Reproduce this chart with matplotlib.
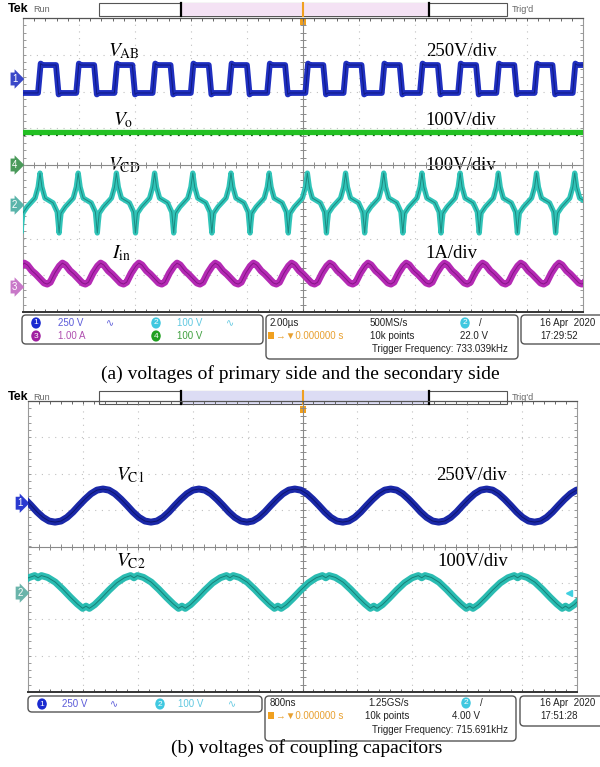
import matplotlib
matplotlib.use('Agg')
import matplotlib.pyplot as plt
import numpy as np
from matplotlib.patches import FancyBboxPatch, Rectangle

plt.rcParams['mathtext.fontset'] = 'stix'
SERIF = 'Liberation Serif'
SANS = ['Liberation Sans', 'DejaVu Sans']

# ---- panel (a): 2.00us/div, values in divisions ----
period_a = 0.682

vab_start = 0.268
vab_frac = [0, 0.07, 0.12, 0.47, 0.54, 0.59, 1.0]
vab_level = [1.96, 2.76, 2.72, 2.72, 1.92, 1.96, 1.96]

vo_level = 0.90

vcd_start = 0.304
vcd_frac = [0, 0.025, 0.05, 0.13, 0.34, 0.45, 0.475, 0.5, 0.525, 0.55, 0.66, 0.87, 0.95, 0.975, 1.0]
vcd_level = [-0.22, -0.41, -0.60, -0.90, -1.03, -1.28, -1.55, -1.85, -1.55, -1.31, -1.14, -0.90, -0.60, -0.41, -0.22]

iin_start = 0.705
iin_frac = [0, 0.08, 0.2, 0.3, 0.42, 0.52, 0.6, 0.68, 0.8, 0.92, 1.0]
iin_level = [-2.67, -2.72, -2.88, -2.97, -3.10, -3.21, -3.24, -3.19, -2.94, -2.75, -2.67]

# ---- panel (b): 800ns/div ----
period_b = 1.747

vc1_start = 1.366
vc1_frac = [i / 16 for i in range(17)]
vc1_level = [1.58, 1.55, 1.45, 1.30, 1.13, 0.95, 0.80, 0.70, 0.67, 0.70, 0.80, 0.95, 1.13, 1.30, 1.45, 1.55, 1.58]

vc2_start = 1.93
vc2_frac = [0, 0.035, 0.1, 0.18, 0.26, 0.34, 0.41, 0.465, 0.5, 0.535, 0.59, 0.66, 0.74, 0.82, 0.9, 0.965, 1.0]
vc2_level = [-0.86, -0.80, -0.85, -0.98, -1.18, -1.40, -1.58, -1.70, -1.64, -1.70, -1.60, -1.42, -1.20, -1.00, -0.86, -0.80, -0.86]


def tile(frac, level, start, period):
    xs, ys = [], []
    k = -2
    while start + k * period < 10.5:
        for f, v in zip(frac, level):
            xs.append(start + (k + f) * period)
            ys.append(v)
        k += 1
    return np.array(xs), np.array(ys)


fig = plt.figure(figsize=(6, 7.67), dpi=100)
ov = fig.add_axes([0, 0, 1, 1])
ov.set_xlim(0, 600)
ov.set_ylim(767, 0)
ov.axis('off')


def scope_axes(x0, y0, x1, y1):
    ax = fig.add_axes([x0 / 600, 1 - y1 / 767, (x1 - x0) / 600, (y1 - y0) / 767])
    ax.set_xlim(0, 10)
    ax.set_ylim(-4, 4)
    ax.set_xticks([])
    ax.set_yticks([])
    ax.patch.set_alpha(0)
    tx = 3.0 / ((y1 - y0) / 8)
    ty = 3.0 / ((x1 - x0) / 10)
    for i in range(1, 10):
        if i != 5:
            ax.axvline(i, ls=(0, (1, 5)), color='#c0c0c0', lw=0.8, zorder=1)
    for j in range(-3, 4):
        if j != 0:
            ax.axhline(j, ls=(0, (1, 5)), color='#c0c0c0', lw=0.8, zorder=1)
    ax.axvline(5, color='#8a8a8a', lw=0.8, zorder=1)
    ax.axhline(0, color='#8a8a8a', lw=0.8, zorder=1)
    xt = np.arange(0, 10.01, 0.2)
    yt = np.arange(-4, 4.01, 0.2)
    ax.vlines(xt, -tx, tx, color='#8a8a8a', lw=0.7, zorder=1)
    ax.hlines(yt, 5 - ty, 5 + ty, color='#8a8a8a', lw=0.7, zorder=1)
    ax.vlines(xt, 4 - tx, 4, color='#666666', lw=0.7, zorder=1)
    ax.vlines(xt, -4, -4 + tx, color='#666666', lw=0.7, zorder=1)
    ax.hlines(yt, 0, ty, color='#999999', lw=0.7, zorder=1)
    ax.hlines(yt, 10 - ty, 10, color='#999999', lw=0.7, zorder=1)
    for s in ['left', 'right']:
        ax.spines[s].set_color('#999999')
        ax.spines[s].set_linewidth(0.8)
    ax.spines['top'].set_color('#555555')
    ax.spines['top'].set_linewidth(0.9)
    ax.spines['bottom'].set_color('#333333')
    ax.spines['bottom'].set_linewidth(1.4)
    return ax


def trace(ax, x, y, color, dark, lw):
    ax.plot(x, y, color=color, lw=lw, solid_joinstyle='round', zorder=3)
    ax.plot(x, y, color=dark, lw=0.7, alpha=0.8, zorder=4)


def ch_marker(ax, y, label, color):
    ax.text(-0.1, y, label, ha='right', va='center', fontsize=7, color='white',
            clip_on=False, family=SANS,
            bbox=dict(boxstyle='rarrow,pad=0.15', fc=color, ec='none'))


def header(y0, inner):
    ov.text(8, y0 + 9, 'Tek', fontsize=9, weight='bold', family=SANS, va='center')
    ov.text(33, y0 + 9, 'Run', fontsize=6.5, color='#666666', family=SANS, va='center')
    ov.add_patch(Rectangle((99, y0 + 3), 408, 13, fc='white', ec='#555555', lw=0.8))
    ov.add_patch(Rectangle((181, y0 + 3), 248, 13, fc=inner, ec='none'))
    ov.plot([181, 181], [y0 + 3, y0 + 16], color='black', lw=1.6)
    ov.plot([429, 429], [y0 + 3, y0 + 16], color='black', lw=1.6)
    ov.plot([303, 303], [y0 + 3, y0 + 16], color='#f0a020', lw=1.5)
    ov.add_patch(Rectangle((300, y0 + 18), 6, 7, fc='#f0a020', ec='none', zorder=5))
    ov.text(512, y0 + 9, "Trig'd", fontsize=6.5, color='#666666', family=SANS, va='center')


def badge(x, y, label, color):
    ov.text(x, y, label, ha='center', va='center', fontsize=6, color='white', family=SANS,
            bbox=dict(boxstyle='round,pad=0.3,rounding_size=0.8', fc=color, ec='none'))


def box(x0, y0, x1, y1):
    ov.add_patch(FancyBboxPatch((x0, y0), x1 - x0, y1 - y0,
                                boxstyle='round,pad=0,rounding_size=4',
                                fc='white', ec='#555555', lw=1))


def stxt(x, y, s, color='#222222'):
    ov.text(x, y, s, fontsize=7, color=color, family=SANS, va='center')


# ---------------- panel (a) ----------------
header(0, '#f4e2f4')
ax_a = scope_axes(23, 18, 583, 312)

x, y = tile(vab_frac, vab_level, vab_start, period_a)
trace(ax_a, x, y, '#1f2fc0', '#0c1470', 4.2)
ax_a.plot([0, 10], [vo_level, vo_level], color='#22c022', lw=3.8, zorder=3)
ax_a.plot([0, 10], [vo_level - 0.08, vo_level - 0.08], color='#1a5a1a', lw=0.9,
          ls=(0, (1.5, 5)), zorder=4)
x, y = tile(vcd_frac, vcd_level, vcd_start, period_a)
trace(ax_a, x, y, '#30c4b8', '#187a72', 3.8)
x, y = tile(iin_frac, iin_level, iin_start, period_a)
trace(ax_a, x, y, '#b42ab4', '#7a107a', 5.0)

ch_marker(ax_a, 2.34, '1', '#3a48c8')
ch_marker(ax_a, 0.0, '4', '#4a9a5a')
ch_marker(ax_a, -1.09, '2', '#5ab4aa')
ch_marker(ax_a, -3.32, '3', '#c878c8')

ov.text(108, 56, r'$V_{\rm AB}$', fontsize=14, va='baseline')
ov.text(426, 56, '250V/div', fontsize=13.5, family=SERIF, va='baseline')
ov.text(113, 125, r'$V_{\rm o}$', fontsize=14, va='baseline')
ov.text(425, 125, '100V/div', fontsize=13.5, family=SERIF, va='baseline')
ov.text(108, 170, r'$V_{\rm CD}$', fontsize=14, va='baseline')
ov.text(425, 170, '100V/div', fontsize=13.5, family=SERIF, va='baseline')
ov.text(112, 258, r'$I_{\rm in}$', fontsize=14, va='baseline')
ov.text(425, 258, '1A/div', fontsize=13.5, family=SERIF, va='baseline')

box(22, 315, 263, 344)
badge(36, 323, '1', '#1a2ad0')
stxt(58, 323, '250 V', '#5a5ad8')
stxt(106, 323, '\u223f', '#5a5ad8')
badge(156, 323, '2', '#40c8e0')
stxt(177, 323, '100 V', '#60c8e0')
stxt(226, 323, '\u223f', '#60c8e0')
badge(36, 336, '3', '#a020a0')
stxt(58, 336, '1.00 A', '#b050b0')
badge(156, 336, '4', '#20a020')
stxt(177, 336, '100 V', '#40a040')

box(266, 315, 518, 359)
stxt(270, 323, '2.00\u00b5s')
stxt(370, 323, '500MS/s')
badge(465, 323, '2', '#40c8e0')
stxt(479, 323, '/')
ov.add_patch(Rectangle((268, 332), 6, 7, fc='#f0a020', ec='none'))
stxt(276, 336, '\u2192\u25bc0.000000 s', '#e8a030')
stxt(370, 336, '10k points')
stxt(460, 336, '22.0 V')
stxt(372, 349, 'Trigger Frequency: 733.039kHz')

box(521, 315, 606, 344)
stxt(540, 323, '16 Apr  2020')
stxt(540, 336, '17:29:52')

ov.text(300, 374, '(a) voltages of primary side and the secondary side', fontsize=14,
        family=SERIF, ha='center', va='center')

# ---------------- panel (b) ----------------
header(388, '#dcdcf4')
ax_b = scope_axes(28, 401, 577, 692)

x, y = tile(vc1_frac, vc1_level, vc1_start, period_b)
trace(ax_b, x, y, '#1a28a8', '#0a1060', 5.0)
x, y = tile(vc2_frac, vc2_level, vc2_start, period_b)
trace(ax_b, x, y, '#2abcb2', '#137068', 5.0)

ch_marker(ax_b, 1.19, '1', '#2a3ad0')
ch_marker(ax_b, -1.28, '2', '#6ab4aa')
ax_b.plot([9.85], [-1.28], marker='<', ms=5, color='#40d0e0', zorder=5, clip_on=False)

ov.text(116, 480, r'$V_{\rm C1}$', fontsize=14, va='baseline')
ov.text(436, 480, '250V/div', fontsize=13.5, family=SERIF, va='baseline')
ov.text(116, 566, r'$V_{\rm C2}$', fontsize=14, va='baseline')
ov.text(437, 566, '100V/div', fontsize=13.5, family=SERIF, va='baseline')

box(28, 696, 262, 712)
badge(42, 704, '1', '#1a2ad0')
stxt(62, 704, '250 V', '#5a5ad8')
stxt(110, 704, '\u223f', '#5a5ad8')
badge(160, 704, '2', '#40c8e0')
stxt(178, 704, '100 V', '#60c8e0')
stxt(228, 704, '\u223f', '#60c8e0')

box(265, 696, 516, 741)
stxt(270, 703, '800ns')
stxt(368, 703, '1.25GS/s')
badge(466, 703, '2', '#40c8e0')
stxt(480, 703, '/')
ov.add_patch(Rectangle((268, 712), 6, 7, fc='#f0a020', ec='none'))
stxt(276, 716, '\u2192\u25bc0.000000 s', '#e8a030')
stxt(365, 716, '10k points')
stxt(452, 716, '4.00 V')
stxt(372, 730, 'Trigger Frequency: 715.691kHz')

box(520, 696, 606, 726)
stxt(540, 703, '16 Apr  2020')
stxt(540, 716, '17:51:28')

ov.text(307, 748, '(b) voltages of coupling capacitors', fontsize=14,
        family=SERIF, ha='center', va='center')

fig.savefig('out.png', dpi=100)
